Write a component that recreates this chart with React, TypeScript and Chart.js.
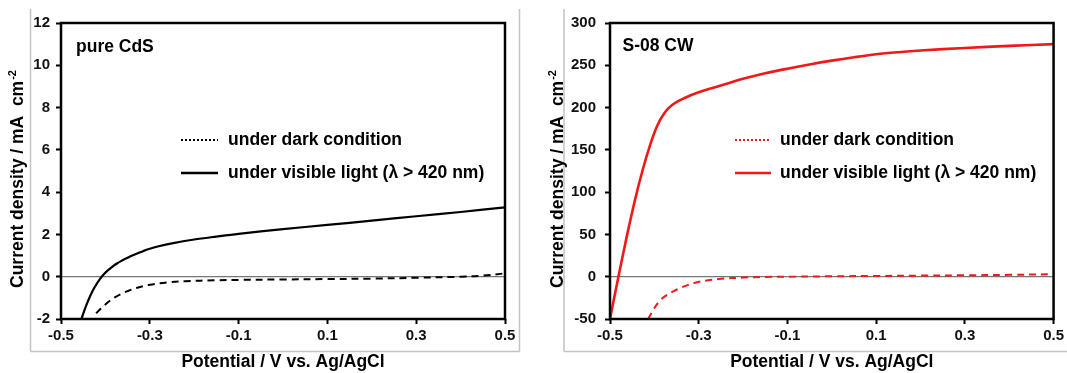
import React, { useEffect, useRef } from 'react';
import { Chart, registerables } from 'chart.js';

Chart.register(...registerables);

const FONT = '"Liberation Sans", Arial, Helvetica, sans-serif';

// ---- shared axis settings ----
const X_MIN = -0.5;
const X_MAX = 0.5;
const X_STEP = 0.2;

const legendLabels = ['under dark condition', 'under visible light (\u03bb > 420 nm)'];
const panelLabels = ['pure CdS', 'S-08 CW'];
const xTitle = 'Potential / V vs. Ag/AgCl';
const yTitleMain = 'Current density / mA  cm';
const yTitleSup = '-2';

// ---- left panel: pure CdS ----
const cdsYMin = -2;
const cdsYMax = 12;
const cdsYStep = 2;
const cdsLightX = [-0.454, -0.444, -0.434, -0.424, -0.414, -0.404, -0.394, -0.384, -0.374, -0.364, -0.354, -0.344, -0.334, -0.324, -0.314, -0.3, -0.28, -0.25, -0.2, -0.15, -0.1, 0, 0.1, 0.2, 0.3, 0.4, 0.5];
const cdsLightY = [-2, -1.4, -0.9, -0.49, -0.16, 0.1, 0.31, 0.48, 0.625, 0.75, 0.86, 0.96, 1.055, 1.14, 1.22, 1.32, 1.44, 1.58, 1.76, 1.9, 2.03, 2.25, 2.45, 2.65, 2.86, 3.06, 3.28];
const cdsDarkX = [-0.421, -0.41, -0.4, -0.39, -0.378, -0.365, -0.35, -0.33, -0.3, -0.26, -0.22, -0.15, -0.1, 0, 0.1, 0.2, 0.3, 0.4, 0.45, 0.5];
const cdsDarkY = [-1.73, -1.5, -1.31, -1.14, -0.97, -0.82, -0.68, -0.53, -0.38, -0.27, -0.21, -0.17, -0.15, -0.13, -0.11, -0.09, -0.05, 0.0, 0.05, 0.16];

// ---- right panel: S-08 CW ----
const cwYMin = -50;
const cwYMax = 300;
const cwYStep = 50;
const cwLightX = [-0.5, -0.481, -0.462, -0.444, -0.427, -0.41, -0.394, -0.378, -0.36, -0.333, -0.3, -0.25, -0.2, -0.15, -0.1, -0.05, 0, 0.05, 0.1, 0.15, 0.2, 0.3, 0.4, 0.5];
const cwLightY = [-50, 0, 48, 90, 125, 155, 178, 193, 203, 211, 218, 226, 234, 240.5, 246, 251, 255.5, 259.5, 263, 265.5, 267.5, 270.5, 273, 275];
const cwDarkX = [-0.414, -0.4, -0.387, -0.37, -0.356, -0.34, -0.325, -0.3, -0.275, -0.25, -0.2, -0.15, -0.1, 0, 0.1, 0.2, 0.3, 0.4, 0.5];
const cwDarkY = [-50, -37, -28, -21, -17, -13, -10, -6, -4, -2.5, -1, -0.3, 0, 0.5, 0.9, 1.3, 1.7, 2.2, 3];

type PanelCfg = {
  left: number;
  width: number;
  color: string;
  label: string;
  yMin: number;
  yMax: number;
  yStep: number;
  lightX: number[];
  lightY: number[];
  darkX: number[];
  darkY: number[];
  lightWidth: number;
  yAxisWidth: number;
  padRight: number;
  yTickPad: number;
  labelX: number;
  labelY: number;
  legX0: number;
  legX1: number;
  legTextX: number;
  legY: number[];
  yTitleX: number;
  frame: number[][];
};

const zip = (xs: number[], ys: number[]) => xs.map((x, i) => ({ x, y: ys[i] }));

function decor(p: PanelCfg) {
  return {
    id: 'decor',
    beforeDraw(chart: any) {
      const ctx = chart.ctx;
      ctx.save();
      ctx.fillStyle = '#ffffff';
      ctx.fillRect(0, 0, chart.width, chart.height);
      ctx.strokeStyle = '#c4c4c4';
      ctx.lineWidth = 1.5;
      ctx.beginPath();
      p.frame.forEach((s) => {
        ctx.moveTo(s[0], s[1]);
        ctx.lineTo(s[2], s[3]);
      });
      ctx.stroke();
      ctx.restore();
    },
    beforeDatasetsDraw(chart: any) {
      const ctx = chart.ctx;
      const ca = chart.chartArea;
      const y0 = chart.scales.y.getPixelForValue(0);
      ctx.save();
      ctx.strokeStyle = '#555';
      ctx.lineWidth = 1;
      ctx.beginPath();
      ctx.moveTo(ca.left, y0);
      ctx.lineTo(ca.right, y0);
      ctx.stroke();
      ctx.restore();
    },
    afterDraw(chart: any) {
      const ctx = chart.ctx;
      const ca = chart.chartArea;
      ctx.save();
      ctx.strokeStyle = '#000';
      ctx.lineWidth = 2.5;
      ctx.strokeRect(ca.left, ca.top, ca.right - ca.left, ca.bottom - ca.top);

      ctx.fillStyle = '#000';
      ctx.font = `bold 17.5px ${FONT}`;
      ctx.textBaseline = 'middle';
      ctx.textAlign = 'left';
      ctx.fillText(p.label, p.labelX, p.labelY);

      ctx.strokeStyle = p.color;
      ctx.lineWidth = 2;
      ctx.setLineDash([2, 2]);
      ctx.beginPath();
      ctx.moveTo(p.legX0, p.legY[0]);
      ctx.lineTo(p.legX1, p.legY[0]);
      ctx.stroke();
      ctx.setLineDash([]);
      ctx.lineWidth = 2.5;
      ctx.beginPath();
      ctx.moveTo(p.legX0, p.legY[1]);
      ctx.lineTo(p.legX1, p.legY[1]);
      ctx.stroke();
      ctx.fillText(legendLabels[0], p.legTextX, p.legY[0]);
      ctx.fillText(legendLabels[1], p.legTextX, p.legY[1]);

      ctx.textAlign = 'center';
      ctx.fillText(xTitle, (ca.left + ca.right) / 2, 362);

      ctx.font = `bold 17.5px ${FONT}`;
      const wMain = ctx.measureText(yTitleMain).width;
      ctx.font = `bold 11px ${FONT}`;
      const wSup = ctx.measureText(yTitleSup).width;
      const total = wMain + 1 + wSup;
      const cy = 179;
      ctx.translate(p.yTitleX, cy + total / 2);
      ctx.rotate(-Math.PI / 2);
      ctx.textAlign = 'left';
      ctx.textBaseline = 'alphabetic';
      ctx.font = `bold 17.5px ${FONT}`;
      ctx.fillText(yTitleMain, 0, 0);
      ctx.font = `bold 11px ${FONT}`;
      ctx.fillText(yTitleSup, wMain + 1, -7);
      ctx.restore();
    },
  };
}

function makeChart(canvas: HTMLCanvasElement, p: PanelCfg) {
  const tickFont = { family: FONT, size: 15, weight: 'bold' as const };
  return new Chart(canvas, {
    type: 'line',
    data: {
      datasets: [
        {
          label: legendLabels[0],
          data: zip(p.darkX, p.darkY),
          borderColor: p.color,
          borderWidth: 2,
          borderDash: [7, 5],
          pointRadius: 0,
          tension: 0.35,
        },
        {
          label: legendLabels[1],
          data: zip(p.lightX, p.lightY),
          borderColor: p.color,
          borderWidth: p.lightWidth,
          pointRadius: 0,
          tension: 0.35,
        },
      ],
    },
    options: {
      animation: false,
      responsive: false,
      devicePixelRatio: 1,
      layout: { padding: { left: 0, right: p.padRight, top: 23, bottom: 0 } },
      plugins: { legend: { display: false }, tooltip: { enabled: false } },
      scales: {
        x: {
          type: 'linear',
          min: X_MIN,
          max: X_MAX,
          ticks: {
            stepSize: X_STEP,
            callback: (v: any) => Number(v).toFixed(1),
            font: tickFont,
            color: '#111',
            padding: 3,
            maxRotation: 0,
            autoSkip: false,
          },
          grid: { drawOnChartArea: false, tickLength: 5, tickWidth: 2, tickColor: '#000', color: '#000' },
          border: { display: false },
          afterFit: (s: any) => {
            s.height = 54;
          },
        },
        y: {
          type: 'linear',
          min: p.yMin,
          max: p.yMax,
          ticks: {
            stepSize: p.yStep,
            callback: (v: any) => String(Math.round(Number(v))),
            font: tickFont,
            color: '#111',
            padding: p.yTickPad,
            autoSkip: false,
          },
          grid: { drawOnChartArea: false, tickLength: 5, tickWidth: 2, tickColor: '#000', color: '#000' },
          border: { display: false },
          afterFit: (s: any) => {
            s.width = p.yAxisWidth;
          },
        },
      },
    },
    plugins: [decor(p)],
  } as any);
}

const panels: PanelCfg[] = [
  {
    left: 0,
    width: 533,
    color: '#000000',
    label: panelLabels[0],
    yMin: cdsYMin,
    yMax: cdsYMax,
    yStep: cdsYStep,
    lightX: cdsLightX,
    lightY: cdsLightY,
    darkX: cdsDarkX,
    darkY: cdsDarkY,
    lightWidth: 2.2,
    yAxisWidth: 61,
    padRight: 28,
    yTickPad: 6,
    labelX: 76,
    labelY: 47,
    legX0: 181,
    legX1: 218,
    legTextX: 228,
    legY: [140, 173],
    yTitleX: 22.5,
    frame: [
      [30.5, 9, 30.5, 351.5],
      [30.5, 351.5, 519.5, 351.5],
      [519.5, 9, 519.5, 351.5],
    ],
  },
  {
    left: 533,
    width: 534,
    color: '#f01818',
    label: panelLabels[1],
    yMin: cwYMin,
    yMax: cwYMax,
    yStep: cwYStep,
    lightX: cwLightX,
    lightY: cwLightY,
    darkX: cwDarkX,
    darkY: cwDarkY,
    lightWidth: 2.6,
    yAxisWidth: 77,
    padRight: 13,
    yTickPad: 9,
    labelX: 89.5,
    labelY: 46,
    legX0: 202,
    legX1: 238,
    legTextX: 247,
    legY: [140, 173],
    yTitleX: 29.5,
    frame: [
      [31, 9, 31, 351.5],
      [31, 351.5, 534, 351.5],
    ],
  },
];

function PanelChart({ p }: { p: PanelCfg }) {
  const ref = useRef<HTMLCanvasElement | null>(null);
  useEffect(() => {
    if (!ref.current) return;
    const chart = makeChart(ref.current, p);
    return () => chart.destroy();
  }, [p]);
  return (
    <canvas
      ref={ref}
      width={p.width}
      height={373}
      style={{ position: 'absolute', left: p.left, top: 0, width: p.width, height: 373 }}
    />
  );
}

export default function App() {
  return (
    <div style={{ position: 'absolute', left: 0, top: 0, width: 1067, height: 373, background: '#fff', overflow: 'hidden' }}>
      {panels.map((p, i) => (
        <PanelChart key={i} p={p} />
      ))}
    </div>
  );
}
